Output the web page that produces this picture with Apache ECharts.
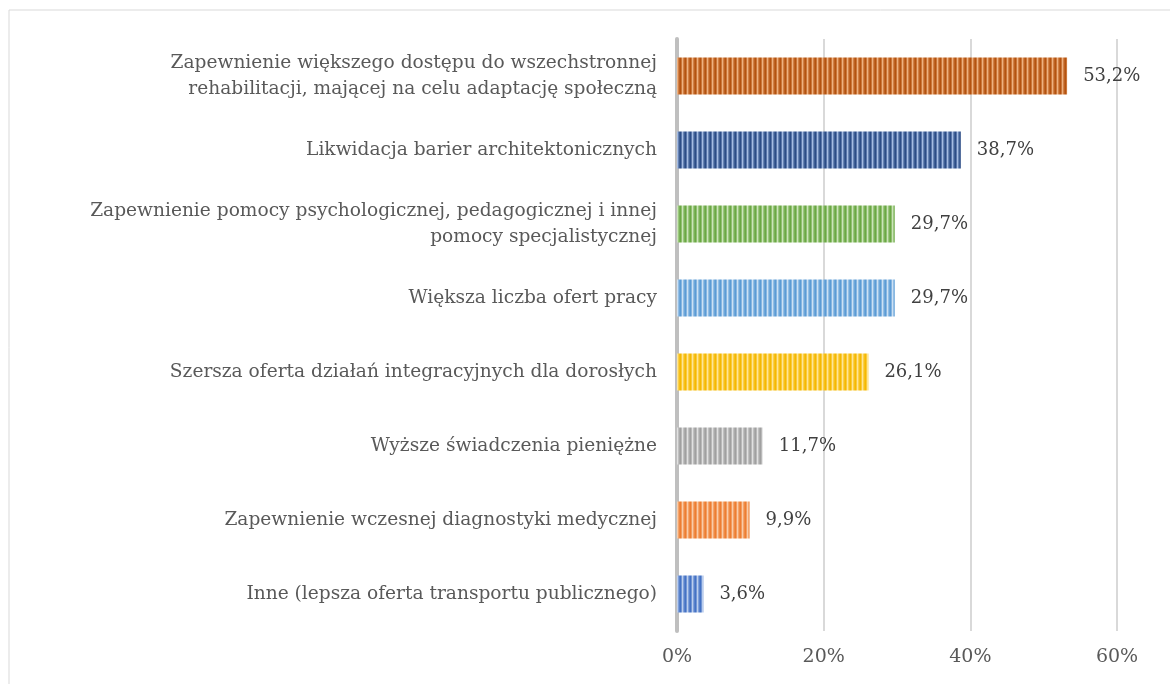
<!DOCTYPE html>
<html>
<head>
<meta charset="utf-8">
<script src="https://cdn.jsdelivr.net/npm/echarts@6/dist/echarts.min.js"></script>
<style>
  html, body { margin: 0; padding: 0; background: #fff; }
  #chart { width: 1170px; height: 684px; }
</style>
</head>
<body>
<div id="chart"></div>
<script>
// kategorie od góry do dołu
const categories = [
    'Zapewnienie większego dostępu do wszechstronnej\nrehabilitacji, mającej na celu adaptację społeczną',
    'Likwidacja barier architektonicznych',
    'Zapewnienie pomocy psychologicznej, pedagogicznej i innej\npomocy specjalistycznej',
    'Większa liczba ofert pracy',
    'Szersza oferta działań integracyjnych dla dorosłych',
    'Wyższe świadczenia pieniężne',
    'Zapewnienie wczesnej diagnostyki medycznej',
    'Inne (lepsza oferta transportu publicznego)'
]
const values = [53.2, 38.7, 29.7, 29.7, 26.1, 11.7, 9.9, 3.6]
const tickLabels = ['0%', '20%', '40%', '60%']

// kolory pasków (ciemny, jasny)
const barColors = [
    ['#b4520f', '#f4bb8c'],
    ['#2b4c86', '#b3c8ec'],
    ['#6aa843', '#d6ebc6'],
    ['#5b9bd5', '#dae9f7'],
    ['#f5b800', '#ffeaa8'],
    ['#a0a0a0', '#e8e8e8'],
    ['#ed7d31', '#fad5b6'],
    ['#4472c4', '#c9d8f2']
]

// mieszanie dwóch kolorów
function mix(a, b, t) {
    const pa = [1, 3, 5].map(i => parseInt(a.substr(i, 2), 16))
    const pb = [1, 3, 5].map(i => parseInt(b.substr(i, 2), 16))
    return 'rgb(' + pa.map((v, i) => Math.round(v + (pb[i] - v) * t)).join(',') + ')'
}

// wzór w pionowe paski
function stripes(dark, light) {
    const c = document.createElement('canvas')
    c.width = 5
    c.height = 4
    const ctx = c.getContext('2d')
    const steps = [0, 0.35, 0.9, 0.45, 0.15]
    steps.forEach((t, i) => {
        ctx.fillStyle = mix(dark, light, t)
        ctx.fillRect(i, 0, 1, 4)
    })
    return { image: c, repeat: 'repeat' }
}

const font = '"DejaVu Serif", Georgia, serif'

function initChart() {
    let myChart = echarts.init(document.querySelector('#chart'))

    const option = {
        animation: false,
        grid: {
            left: 677,
            right: 53,
            top: 39,
            bottom: 53
        },
        graphic: [{
            type: 'rect',
            shape: { x: 9, y: 10, width: 1170, height: 690 },
            style: { fill: 'none', stroke: '#d9d9d9', lineWidth: 1 },
            silent: true
        }],
        xAxis: {
            type: 'value',
            min: 0,
            max: 60,
            interval: 20,
            axisLine: { show: false },
            axisTick: { show: false },
            splitLine: { lineStyle: { color: '#d9d9d9', width: 2 } },
            axisLabel: {
                margin: 17,
                color: '#595959',
                fontFamily: font,
                fontSize: 19,
                formatter: v => tickLabels[v / 20]
            }
        },
        yAxis: {
            type: 'category',
            inverse: true,
            data: categories,
            axisTick: { show: false },
            axisLine: { show: true, lineStyle: { color: '#bfbfbf', width: 4 } },
            axisLabel: {
                margin: 20,
                color: '#595959',
                fontFamily: font,
                fontSize: 18.6,
                lineHeight: 26,
                align: 'right'
            }
        },
        series: [{
            type: 'bar',
            barWidth: '50%',
            data: values.map((v, i) => ({
                value: v,
                itemStyle: { color: stripes(barColors[i][0], barColors[i][1]) }
            })),
            label: {
                show: true,
                position: 'right',
                distance: 16,
                color: '#404040',
                fontFamily: font,
                fontSize: 18,
                formatter: p => String(p.value).replace('.', ',') + '%'
            }
        }]
    }

    myChart.setOption(option)
}
initChart()
</script>
</body>
</html>
